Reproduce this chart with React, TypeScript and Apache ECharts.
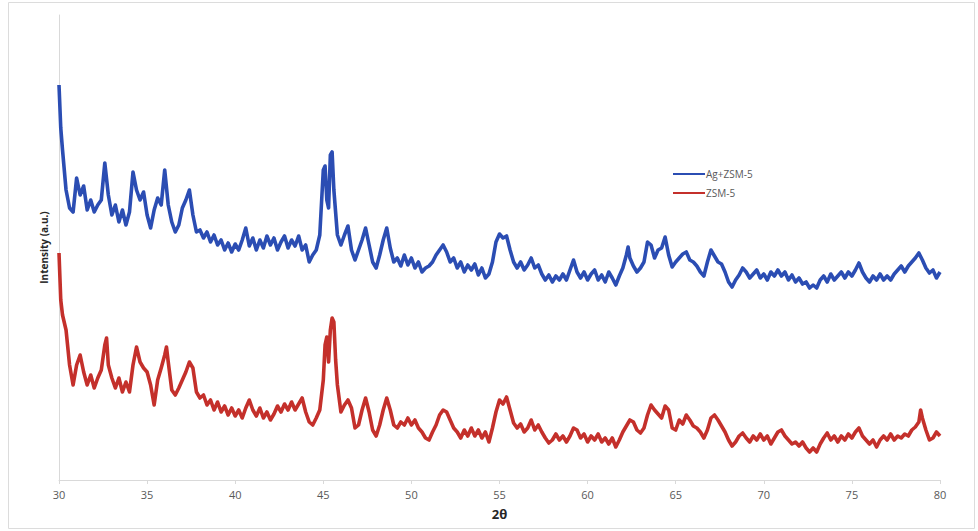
import React, { useEffect, useRef } from "react";
import * as echarts from "echarts";

const xTicks = [30, 35, 40, 45, 50, 55, 60, 65, 70, 75, 80];
const seriesNames = ["Ag+ZSM-5", "ZSM-5"];

// [2θ, intensity (a.u.)]
const agZsm5: [number, number][] = [
  [30.0, 395], [30.1, 352], [30.2, 330], [30.4, 290], [30.6, 272], [30.8, 268],
  [31.0, 302], [31.2, 285], [31.4, 294], [31.6, 270], [31.8, 280],
  [32.0, 268], [32.2, 275], [32.4, 280], [32.6, 317], [32.8, 285],
  [33.0, 265], [33.2, 275], [33.4, 258], [33.6, 270], [33.8, 255],
  [34.0, 268], [34.2, 308], [34.4, 290], [34.6, 280], [34.8, 288],
  [35.0, 265], [35.2, 252], [35.4, 270], [35.6, 282], [35.8, 275],
  [36.0, 310], [36.2, 275], [36.4, 258], [36.6, 248], [36.8, 255],
  [37.0, 272], [37.2, 280], [37.4, 290], [37.6, 265], [37.8, 248],
  [38.0, 250], [38.2, 242], [38.4, 248], [38.6, 238], [38.8, 245],
  [39.0, 235], [39.2, 240], [39.4, 230], [39.6, 237], [39.8, 228],
  [40.0, 236], [40.2, 230], [40.4, 240], [40.6, 252], [40.8, 234],
  [41.0, 242], [41.2, 230], [41.4, 240], [41.6, 232], [41.8, 244],
  [42.0, 235], [42.2, 242], [42.4, 230], [42.6, 238], [42.8, 244],
  [43.0, 232], [43.2, 240], [43.4, 234], [43.6, 244], [43.8, 230],
  [44.0, 235], [44.2, 218], [44.4, 225], [44.6, 230], [44.8, 245],
  [45.0, 310], [45.1, 314], [45.2, 280], [45.3, 272], [45.4, 325], [45.5, 328], [45.6, 290], [45.8, 245],
  [46.0, 235], [46.2, 245], [46.4, 254], [46.6, 230], [46.8, 220],
  [47.0, 230], [47.2, 240], [47.4, 252], [47.6, 235], [47.8, 218],
  [48.0, 212], [48.2, 225], [48.4, 240], [48.6, 252], [48.8, 232],
  [49.0, 218], [49.2, 222], [49.4, 214], [49.6, 225], [49.8, 215],
  [50.0, 222], [50.2, 212], [50.4, 218], [50.6, 208], [50.8, 212],
  [51.0, 214], [51.2, 218], [51.4, 225], [51.6, 230], [51.8, 235],
  [52.0, 228], [52.2, 218], [52.4, 222], [52.6, 212], [52.8, 218],
  [53.0, 208], [53.2, 215], [53.4, 210], [53.6, 216], [53.8, 205],
  [54.0, 212], [54.2, 202], [54.4, 206], [54.6, 218], [54.8, 238],
  [55.0, 246], [55.2, 242], [55.4, 244], [55.6, 230], [55.8, 218],
  [56.0, 212], [56.2, 218], [56.4, 210], [56.6, 215], [56.8, 222],
  [57.0, 212], [57.2, 215], [57.4, 206], [57.6, 200], [57.8, 205],
  [58.0, 198], [58.2, 204], [58.4, 200], [58.6, 206], [58.8, 200],
  [59.0, 210], [59.2, 220], [59.4, 208], [59.6, 202], [59.8, 208],
  [60.0, 200], [60.2, 206], [60.4, 210], [60.6, 200], [60.8, 205],
  [61.0, 198], [61.2, 208], [61.4, 202], [61.6, 195], [61.8, 204],
  [62.0, 212], [62.2, 225], [62.3, 233], [62.4, 222], [62.6, 214], [62.8, 208],
  [63.0, 212], [63.2, 218], [63.4, 238], [63.6, 235], [63.8, 222],
  [64.0, 230], [64.2, 232], [64.4, 243], [64.6, 225], [64.8, 213],
  [65.0, 218], [65.2, 222], [65.4, 226], [65.6, 228], [65.8, 220],
  [66.0, 218], [66.2, 214], [66.4, 208], [66.6, 204], [66.8, 218],
  [67.0, 230], [67.2, 224], [67.4, 218], [67.6, 216], [67.8, 208],
  [68.0, 198], [68.2, 193], [68.4, 200], [68.6, 205], [68.8, 212],
  [69.0, 208], [69.2, 202], [69.4, 206], [69.6, 210], [69.8, 202],
  [70.0, 206], [70.2, 200], [70.4, 208], [70.6, 204], [70.8, 210],
  [71.0, 204], [71.2, 208], [71.4, 200], [71.6, 205], [71.8, 198],
  [72.0, 202], [72.2, 196], [72.4, 198], [72.6, 192], [72.8, 195],
  [73.0, 192], [73.2, 200], [73.4, 204], [73.6, 198], [73.8, 206],
  [74.0, 200], [74.2, 204], [74.4, 208], [74.6, 202], [74.8, 208],
  [75.0, 204], [75.2, 210], [75.4, 217], [75.6, 208], [75.8, 202],
  [76.0, 198], [76.2, 204], [76.4, 200], [76.6, 206], [76.8, 200],
  [77.0, 204], [77.2, 200], [77.4, 206], [77.6, 210], [77.8, 214],
  [78.0, 208], [78.2, 214], [78.4, 218], [78.6, 222], [78.8, 227],
  [79.0, 220], [79.2, 212], [79.4, 207], [79.6, 210], [79.8, 202],
  [80.0, 208],
];

const zsm5: [number, number][] = [
  [30.0, 227], [30.1, 180], [30.2, 165], [30.4, 150], [30.6, 115], [30.8, 95],
  [31.0, 115], [31.2, 125], [31.4, 108], [31.6, 95], [31.8, 105],
  [32.0, 92], [32.2, 102], [32.4, 110], [32.6, 135], [32.7, 142], [32.8, 115],
  [33.0, 102], [33.2, 92], [33.4, 102], [33.6, 88], [33.8, 98],
  [34.0, 88], [34.2, 115], [34.4, 133], [34.6, 118], [34.8, 112],
  [35.0, 108], [35.2, 95], [35.4, 75], [35.6, 100], [35.8, 112],
  [36.0, 125], [36.1, 133], [36.2, 118], [36.4, 90], [36.6, 85], [36.8, 92],
  [37.0, 100], [37.2, 108], [37.4, 118], [37.6, 112], [37.8, 88],
  [38.0, 82], [38.2, 85], [38.4, 75], [38.6, 80], [38.8, 70],
  [39.0, 78], [39.2, 68], [39.4, 74], [39.6, 65], [39.8, 72],
  [40.0, 64], [40.2, 70], [40.4, 62], [40.6, 72], [40.8, 80],
  [41.0, 70], [41.2, 64], [41.4, 72], [41.6, 62], [41.8, 68],
  [42.0, 60], [42.2, 66], [42.4, 74], [42.6, 68], [42.8, 76],
  [43.0, 70], [43.2, 78], [43.4, 70], [43.6, 76], [43.8, 82],
  [44.0, 68], [44.2, 58], [44.4, 55], [44.6, 62], [44.8, 70],
  [45.0, 100], [45.1, 135], [45.2, 143], [45.3, 118], [45.4, 150], [45.5, 162], [45.6, 158], [45.7, 120], [45.8, 95],
  [46.0, 68], [46.2, 75], [46.4, 80], [46.6, 72], [46.8, 52],
  [47.0, 55], [47.2, 70], [47.4, 82], [47.6, 68], [47.8, 50],
  [48.0, 44], [48.2, 55], [48.4, 70], [48.6, 82], [48.8, 70],
  [49.0, 55], [49.2, 52], [49.4, 58], [49.6, 55], [49.8, 62],
  [50.0, 55], [50.2, 60], [50.4, 52], [50.6, 48], [50.8, 42],
  [51.0, 40], [51.2, 48], [51.4, 55], [51.6, 65], [51.8, 70],
  [52.0, 68], [52.2, 60], [52.4, 52], [52.6, 48], [52.8, 42],
  [53.0, 50], [53.2, 44], [53.4, 52], [53.6, 44], [53.8, 50],
  [54.0, 42], [54.2, 48], [54.4, 38], [54.6, 52], [54.8, 68],
  [55.0, 80], [55.2, 76], [55.4, 83], [55.6, 70], [55.8, 57],
  [56.0, 52], [56.2, 56], [56.4, 48], [56.6, 52], [56.8, 60],
  [57.0, 50], [57.2, 55], [57.4, 48], [57.6, 42], [57.8, 37],
  [58.0, 40], [58.2, 46], [58.4, 40], [58.6, 44], [58.8, 38],
  [59.0, 44], [59.2, 52], [59.4, 50], [59.6, 42], [59.8, 46],
  [60.0, 38], [60.2, 44], [60.4, 40], [60.6, 46], [60.8, 38],
  [61.0, 42], [61.2, 36], [61.4, 42], [61.6, 33], [61.8, 40],
  [62.0, 48], [62.2, 54], [62.4, 60], [62.6, 58], [62.8, 50],
  [63.0, 47], [63.2, 52], [63.4, 65], [63.6, 75], [63.8, 70],
  [64.0, 66], [64.2, 62], [64.4, 74], [64.6, 70], [64.8, 52],
  [65.0, 50], [65.2, 60], [65.4, 56], [65.6, 65], [65.8, 60],
  [66.0, 54], [66.2, 52], [66.4, 48], [66.6, 42], [66.8, 50],
  [67.0, 62], [67.2, 65], [67.4, 60], [67.6, 54], [67.8, 48],
  [68.0, 40], [68.2, 34], [68.4, 38], [68.6, 44], [68.8, 47],
  [69.0, 42], [69.2, 38], [69.4, 44], [69.6, 40], [69.8, 46],
  [70.0, 40], [70.2, 44], [70.4, 36], [70.6, 42], [70.8, 48],
  [71.0, 50], [71.2, 44], [71.4, 40], [71.6, 36], [71.8, 38],
  [72.0, 34], [72.2, 38], [72.4, 32], [72.6, 28], [72.8, 32],
  [73.0, 28], [73.2, 36], [73.4, 42], [73.6, 47], [73.8, 40],
  [74.0, 44], [74.2, 38], [74.4, 44], [74.6, 40], [74.8, 46],
  [75.0, 42], [75.2, 48], [75.4, 52], [75.6, 44], [75.8, 40],
  [76.0, 36], [76.2, 40], [76.4, 33], [76.6, 40], [76.8, 44],
  [77.0, 40], [77.2, 46], [77.4, 40], [77.6, 44], [77.8, 42],
  [78.0, 46], [78.2, 44], [78.4, 50], [78.6, 53], [78.8, 58],
  [78.9, 70], [79.0, 62], [79.2, 50], [79.4, 40], [79.6, 42], [79.8, 48],
  [80.0, 44],
];

const BLUE = "#2b4db3";
const RED = "#c4302b";

export default function App() {
  const ref = useRef<HTMLDivElement>(null);
  useEffect(() => {
    if (!ref.current) return;
    const chart = echarts.init(ref.current, null, { renderer: "svg" });
    chart.setOption({
      animation: false,
      backgroundColor: "#ffffff",
      textStyle: { fontFamily: "'Open Sans', 'Liberation Sans', sans-serif" },
      graphic: [
        {
          type: "rect",
          shape: { x: 8.5, y: 2.5, width: 966, height: 526 },
          style: { fill: "none", stroke: "#dcdcdc", lineWidth: 1 },
          silent: true,
        },
      ],
      grid: { left: 59, right: 38, top: 15, bottom: 51 },
      legend: {
        left: 668,
        top: 164,
        orient: "vertical",
        itemWidth: 32,
        itemHeight: 2,
        itemGap: 9,
        icon: "rect",
        textStyle: { fontSize: 10, color: "#595959", padding: [0, 0, 0, -4] },
        data: seriesNames,
      },
      xAxis: {
        type: "value",
        min: 30,
        max: 80,
        interval: 5,
        name: "2θ",
        nameLocation: "middle",
        nameGap: 27,
        nameTextStyle: { fontSize: 13, fontWeight: "bold", color: "#262626" },
        axisLine: { show: true, lineStyle: { color: "#d9d9d9", width: 1 } },
        axisTick: { show: true, length: 4, lineStyle: { color: "#d9d9d9" } },
        axisLabel: {
          fontSize: 11,
          color: "#595959",
          margin: 9,
          customValues: xTicks,
        },
        splitLine: { show: false },
      },
      yAxis: {
        type: "value",
        min: 0,
        max: 465,
        name: "Intensity (a.u.)",
        nameLocation: "middle",
        nameGap: 10,
        nameRotate: 90,
        nameTextStyle: { fontSize: 10, fontWeight: "bold", color: "#262626" },
        axisLine: { show: true, lineStyle: { color: "#d9d9d9", width: 1 } },
        axisTick: { show: false },
        axisLabel: { show: false },
        splitLine: { show: false },
      },
      series: [
        {
          name: seriesNames[0],
          type: "line",
          data: agZsm5,
          showSymbol: false,
          lineStyle: { color: BLUE, width: 3.6, join: "round" },
          itemStyle: { color: BLUE },
        },
        {
          name: seriesNames[1],
          type: "line",
          data: zsm5,
          showSymbol: false,
          lineStyle: { color: RED, width: 3.6, join: "round" },
          itemStyle: { color: RED },
        },
      ],
    });
    return () => chart.dispose();
  }, []);
  return (
    <div
      ref={ref}
      style={{ position: "absolute", left: 0, top: 0, width: 978, height: 531 }}
    />
  );
}
